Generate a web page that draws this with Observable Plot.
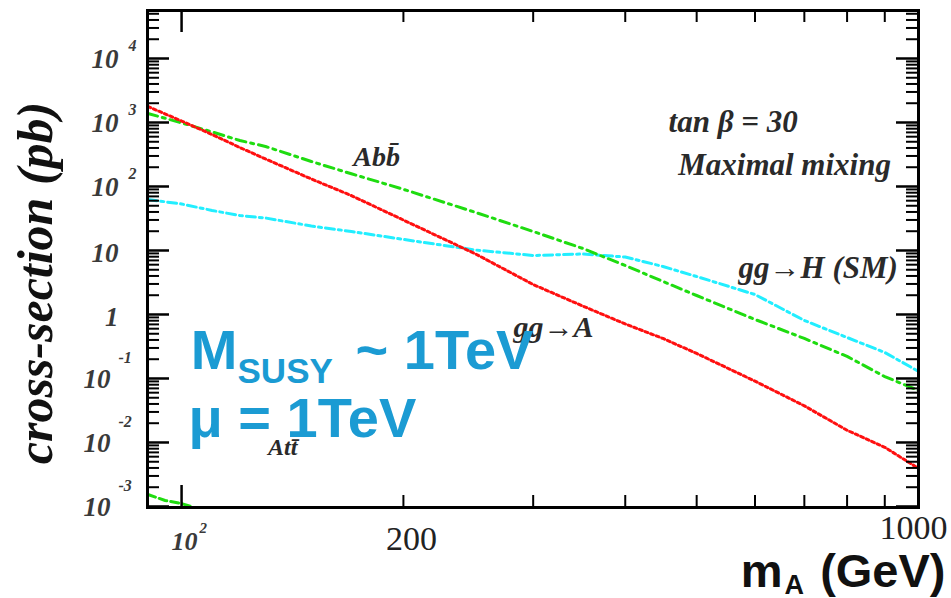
<!DOCTYPE html>
<html><head><meta charset="utf-8">
<script src="https://cdn.jsdelivr.net/npm/d3@7"></script>
<script src="https://cdn.jsdelivr.net/npm/@observablehq/plot@0.6"></script>
<style>body{margin:0;background:#fff}#chart svg{display:block}</style>
</head><body><div id="chart"></div>
<script>
// ---- data ----
const massGeV = [90,100,110,120,130,150,170,200,250,300,350,400,450,500,600,700,800,900,1000];
const sigmaGgA = [1780,1054,649,406,269,131,72.1,29.9,8.95,2.94,1.36,0.711,0.422,0.246,0.0908,0.0374,0.0155,0.00841,0.00393];
const sigmaAbb = [1383,986,713,523,422,246,158,90.4,39.7,19.8,10.8,5.83,3.28,1.98,0.836,0.422,0.221,0.107,0.0649];
const sigmaGgH = [62.6,53.3,42.2,35.2,32.2,24.1,19.8,14.9,10.2,8.35,8.81,7.91,5.62,3.92,2.05,0.806,0.437,0.255,0.129];
const massAtt = [90,95,100,105];
const sigmaAtt = [0.00154,0.00124,0.00111,0.00093];

const yTickValues = [1e-3,1e-2,1e-1,1,10,100,1e3,1e4];
const yTickBases = ["10","10","10","1","10","10","10","10"];
const yTickExps = ["-3","-2","-1","","","2","3","4"];
const xMajorTicks = [100,1000];
const xMinorTicks = [200,300,400,500,600,700,800,900];
const xTickValues = [100,200,1000];
const xTickLabels = ["10","200","1000"];

// ---- build tables ----
const W = 951, H = 598, mL = 147, mR = 33, mT = 10, mB = 91;
const fw = W - mL - mR, fh = H - mT - mB;
const tbl = (xs, ys) => xs.map((m, i) => ({m, s: ys[i]}));
const yLab = yTickValues.map((v, i) => ({v, base: yTickBases[i], exp: yTickExps[i]}));
const yMinor = [];
for (let n = -3; n <= 4; n++) for (let k = 2; k <= 9; k++) { const v = k * 10 ** n; if (v < 10 ** 4.75) yMinor.push(v); }

const sbi = {fontFamily: "Liberation Serif", fontWeight: "bold", fontStyle: "italic"};
const lab = {...sbi, fill: "#3a3a3a", fontSize: 27};
const ann = {...sbi, fill: "#2a2a2a", fontSize: 31, textAnchor: "start", lineAnchor: "middle"};
const blue = {fontFamily: "Liberation Sans", fontWeight: "bold", fill: "#1b9bd3", textAnchor: "start", lineAnchor: "bottom"};
const sans = {fontFamily: "Liberation Sans", fontWeight: "bold", fill: "#111", lineAnchor: "bottom"};

const chart = Plot.plot({
  width: W, height: H,
  marginLeft: mL, marginRight: mR, marginTop: mT, marginBottom: mB,
  x: {type: "log", domain: [89.9, 1000], axis: null},
  y: {type: "log", domain: [10 ** -3.016, 10 ** 4.75], axis: null},
  marks: [
    // curves
    Plot.line(tbl(massGeV, sigmaGgH), {x: "m", y: "s", stroke: "#22eeff", strokeWidth: 3, strokeDasharray: "9,4,3,4", clip: true}),
    Plot.line(tbl(massGeV, sigmaAbb), {x: "m", y: "s", stroke: "#1fdc10", strokeWidth: 3, strokeDasharray: "10,5,3,5", clip: true}),
    Plot.line(tbl(massAtt, sigmaAtt), {x: "m", y: "s", stroke: "#1fdc10", strokeWidth: 3, strokeDasharray: "8,4", clip: true}),
    Plot.line(tbl(massGeV, sigmaGgA), {x: "m", y: "s", stroke: "#ff1010", strokeWidth: 3, strokeDasharray: "3,3", clip: true}),
    // ticks (inside, all four sides)
    Plot.tickY(yTickValues, {y: d => d, insetRight: fw - 22, stroke: "#000", strokeWidth: 2.5}),
    Plot.tickY(yTickValues, {y: d => d, insetLeft: fw - 22, stroke: "#000", strokeWidth: 2.5}),
    Plot.tickY(yMinor, {y: d => d, insetRight: fw - 12, stroke: "#000", strokeWidth: 2}),
    Plot.tickY(yMinor, {y: d => d, insetLeft: fw - 12, stroke: "#000", strokeWidth: 2}),
    Plot.tickX(xMajorTicks, {x: d => d, insetTop: fh - 22, stroke: "#000", strokeWidth: 2.5}),
    Plot.tickX(xMajorTicks, {x: d => d, insetBottom: fh - 22, stroke: "#000", strokeWidth: 2.5}),
    Plot.tickX(xMinorTicks, {x: d => d, insetTop: fh - 12, stroke: "#000", strokeWidth: 2}),
    Plot.tickX(xMinorTicks, {x: d => d, insetBottom: fh - 12, stroke: "#000", strokeWidth: 2}),
    Plot.frame({stroke: "#000", strokeWidth: 3}),
    // y tick labels
    Plot.text(yLab.filter(d => d.exp.startsWith("-")), {y: "v", text: "base", frameAnchor: "left", textAnchor: "end", dx: -37, dy: 1, ...lab}),
    Plot.text(yLab.filter(d => d.exp.startsWith("-")), {y: "v", text: "exp", frameAnchor: "left", textAnchor: "start", dx: -29, dy: -21, ...lab, fontSize: 16}),
    Plot.text(yLab.filter(d => d.exp === ""), {y: "v", text: "base", frameAnchor: "left", textAnchor: "end", dx: -29, dy: 3, ...lab}),
    Plot.text(yLab.filter(d => d.exp !== "" && !d.exp.startsWith("-")), {y: "v", text: "base", frameAnchor: "left", textAnchor: "end", dx: -29, dy: 1, ...lab}),
    Plot.text(yLab.filter(d => d.exp !== "" && !d.exp.startsWith("-")), {y: "v", text: "exp", frameAnchor: "left", textAnchor: "start", dx: -19, dy: -13, ...lab, fontSize: 16}),
    // x tick labels
    Plot.text([xTickValues[0]], {x: d => d, text: [xTickLabels[0]], frameAnchor: "bottom", textAnchor: "end", dx: 16, dy: 42, ...lab, fontSize: 26}),
    Plot.text([xTickValues[0]], {x: d => d, text: ["2"], frameAnchor: "bottom", textAnchor: "start", dx: 18, dy: 25, ...lab, fontSize: 15}),
    Plot.text([xTickValues[1]], {x: d => d, text: [xTickLabels[1]], frameAnchor: "bottom", textAnchor: "middle", dx: 8, dy: 42, fontFamily: "Liberation Serif", fontSize: 34, fill: "#222"}),
    Plot.text([xTickValues[2]], {x: d => d, text: [xTickLabels[2]], frameAnchor: "bottom", textAnchor: "middle", dx: -5, dy: 31, fontFamily: "Liberation Serif", fontSize: 34, fill: "#222"}),
    // axis titles
    Plot.text(["cross-section (pb)"], {frameAnchor: "left", dx: -112, dy: 24, rotate: -90, textAnchor: "middle", lineAnchor: "middle", ...sbi, fontSize: 50, fill: "#111"}),
    Plot.text(["m"], {frameAnchor: "bottom-right", textAnchor: "end", dx: -136, dy: 79, ...sans, fontSize: 47}),
    Plot.text(["A"], {frameAnchor: "bottom-right", textAnchor: "start", dx: -134, dy: 86, ...sans, fontSize: 27}),
    Plot.text(["(GeV)"], {frameAnchor: "bottom-right", textAnchor: "end", dx: 27, dy: 79, ...sans, fontSize: 47}),
    // annotations
    Plot.text(["tan \u03B2 = 30"], {x: [458], y: [1000], ...ann}),
    Plot.text(["Maximal mixing"], {x: [472], y: [213], ...ann}),
    Plot.text(["gg\u2192H (SM)"], {x: [570], y: [5.24], ...ann}),
    Plot.text(["Abb\u0304"], {x: [171], y: [284], ...ann, fontSize: 28}),
    Plot.text(["gg\u2192A"], {x: [282], y: [0.627], ...ann, fontSize: 30}),
    Plot.text(["Att\u0304"], {x: [131], y: [0.00835], ...ann, fontSize: 24}),
    // big blue labels
    Plot.text(["M"], {x: [102.9], y: [0.143], ...blue, fontSize: 56}),
    Plot.text(["SUSY"], {x: [119.1], y: [0.0835], ...blue, fontSize: 35}),
    Plot.text(["~ 1TeV"], {x: [172.2], y: [0.143], ...blue, fontSize: 56}),
    Plot.text(["\u03BC = 1TeV"], {x: [102.2], y: [0.01197], ...blue, fontSize: 56})
  ]
});
document.getElementById("chart").appendChild(chart);
</script>
</body></html>
